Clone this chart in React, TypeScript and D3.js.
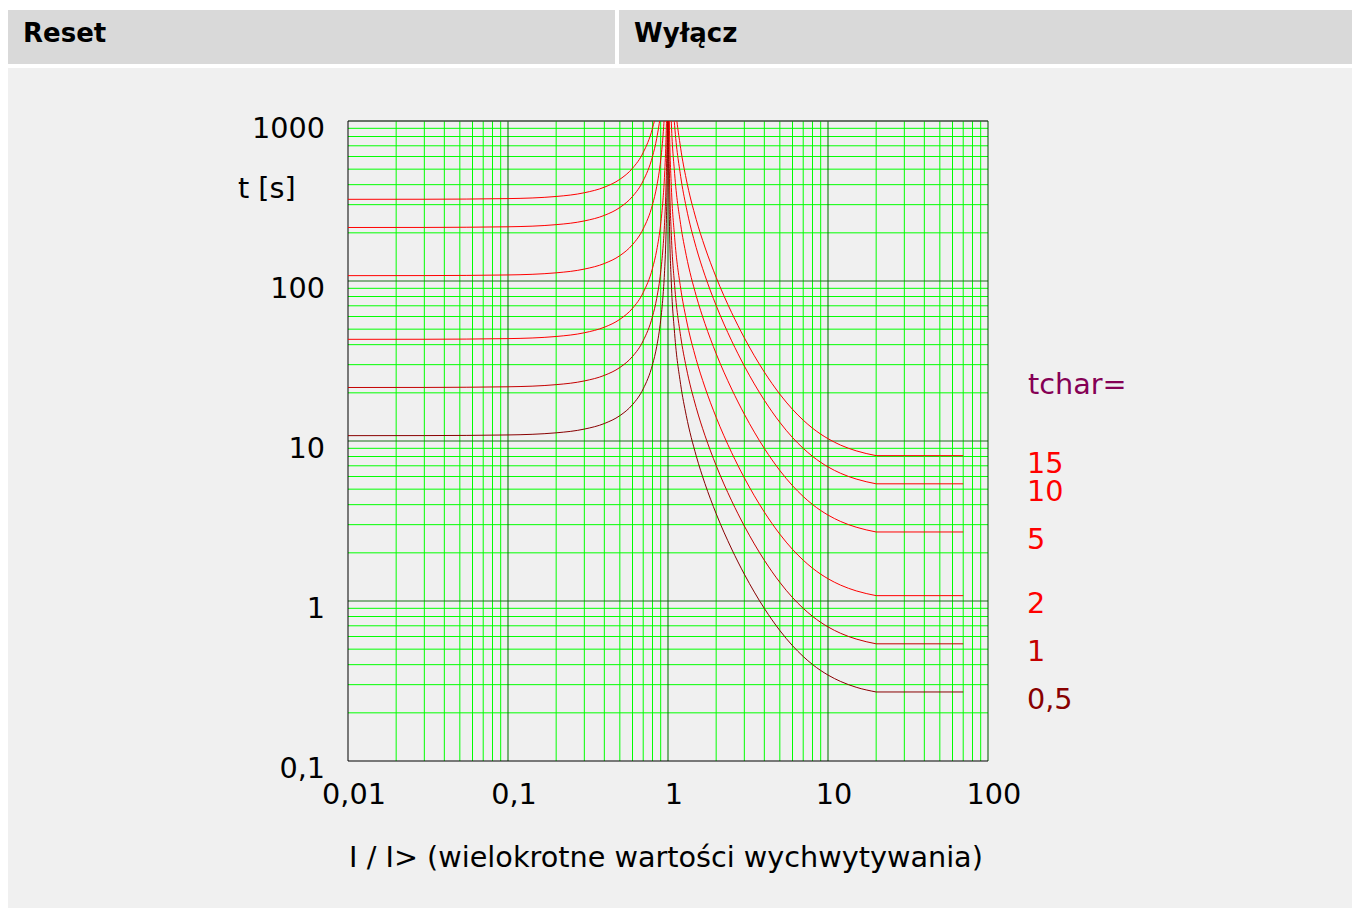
import React from "react";
import * as d3 from "d3";

// ---- Data ----
const tcharValues = [0.5, 1, 2, 5, 10, 15];
const tcharLabels = ["0,5", "1", "2", "5", "10", "15"];
const curveColors = ["#880000", "#c40000", "#ff0000", "#ff0000", "#ff0000", "#ff0000"];

// Reset side (I/I> < 1)
const resetM = [0.01, 0.03, 0.1, 0.2, 0.3, 0.4, 0.5, 0.6, 0.7, 0.8, 0.85, 0.9, 0.93, 0.95, 0.97, 0.98, 0.99, 0.995, 0.998];
const resetT05 = [10.8, 10.81, 10.91, 11.25, 11.87, 12.86, 14.4, 16.88, 21.18, 30.0, 38.92, 56.85, 79.95, 110.8, 182.8, 272.8, 542.5, 1083, 2703];
const resetT1 = [21.6, 21.62, 21.82, 22.5, 23.74, 25.71, 28.8, 33.75, 42.35, 60.0, 77.84, 113.7, 159.9, 221.5, 365.5, 545.5, 1085, 2165, 5405];
const resetT2 = [43.2, 43.24, 43.64, 45.0, 47.48, 51.42, 57.6, 67.5, 84.7, 120, 155.7, 227.4, 319.8, 443, 731, 1091, 2170, 4330, 10810];
const resetT5 = [108.0, 108.1, 109.1, 112.5, 118.7, 128.6, 144, 168.8, 211.8, 300, 389.2, 568.5, 799.5, 1108, 1828, 2728, 5425, 10825, 27025];
const resetT10 = [216.0, 216.2, 218.2, 225, 237.4, 257.1, 288, 337.5, 423.5, 600, 778.4, 1137, 1599, 2215, 3655, 5455, 10850, 21650, 54050];
const resetT15 = [324.0, 324.3, 327.3, 337.5, 356.1, 385.7, 432, 506.3, 635.3, 900, 1168, 1706, 2399, 3323, 5483, 8183, 16275, 32475, 81075];
const resetSeries = [resetT05, resetT1, resetT2, resetT5, resetT10, resetT15];

// Trip side (I/I> > 1)
const tripM = [1.002, 1.005, 1.01, 1.02, 1.05, 1.1, 1.2, 1.3, 1.5, 1.7, 2, 2.5, 3, 4, 5, 6, 7, 8, 10, 12, 15, 20];
const tripEndM = 70;
const tripT05 = [2449, 978.5, 488.1, 243.0, 95.9, 46.94, 22.53, 14.46, 8.09, 5.435, 3.514, 2.113, 1.471, 0.899, 0.654, 0.5255, 0.45, 0.401, 0.3445, 0.314, 0.289, 0.27];
const tripT1 = [4898, 1957, 976.1, 485.9, 191.8, 93.87, 45.06, 28.91, 16.18, 10.87, 7.028, 4.226, 2.942, 1.798, 1.308, 1.051, 0.9, 0.802, 0.689, 0.628, 0.5785, 0.54];
const tripT2 = [9796, 3914, 1952, 971.8, 383.6, 187.7, 90.12, 57.82, 32.36, 21.74, 14.06, 8.452, 5.884, 3.596, 2.616, 2.102, 1.8, 1.604, 1.378, 1.256, 1.157, 1.08];
const tripT5 = [24490, 9785, 4881, 2430, 959, 469.4, 225.3, 144.6, 80.9, 54.35, 35.14, 21.13, 14.71, 8.99, 6.54, 5.255, 4.5, 4.01, 3.445, 3.14, 2.893, 2.7];
const tripT10 = [48980, 19570, 9761, 4859, 1918, 938.7, 450.6, 289.1, 161.8, 108.7, 70.28, 42.26, 29.42, 17.98, 13.08, 10.51, 9.0, 8.02, 6.89, 6.28, 5.785, 5.4];
const tripT15 = [73470, 29355, 14642, 7289, 2877, 1408, 675.9, 433.7, 242.7, 163.1, 105.4, 63.39, 44.13, 26.97, 19.62, 15.77, 13.5, 12.03, 10.34, 9.42, 8.68, 8.1];
const tripSeries = [tripT05, tripT1, tripT2, tripT5, tripT10, tripT15];

const xTickValues = [0.01, 0.1, 1, 10, 100];
const xTickLabels = ["0,01", "0,1", "1", "10", "100"];
const yTickValues = [0.1, 1, 10, 100, 1000];
const yTickLabels = ["0,1", "1", "10", "100", "1000"];

const tabLabels = ["Reset", "Wyłącz"];
const xTitle = "I / I> (wielokrotne wartości wychwytywania)";
const yTitle = "t [s]";
const legendTitle = "tchar=";

// ---- Layout ----
const W = 1352;
const H = 908;
const plot = { left: 348, right: 988, top: 121, bottom: 761 };
const FONT = "'DejaVu Sans', sans-serif";
const FS = 28.7;

export default function App() {
  const x = d3.scaleLog().domain([0.01, 100]).range([plot.left, plot.right]);
  const y = d3.scaleLog().domain([0.1, 1000]).range([plot.bottom, plot.top]);

  const minorX: number[] = [];
  const majorX: number[] = [];
  [-2, -1, 0, 1].forEach((d) => {
    for (let k = 2; k <= 9; k++) minorX.push(k * Math.pow(10, d));
  });
  [0.1, 1, 10].forEach((v) => majorX.push(v));
  const minorY: number[] = [];
  const majorY: number[] = [];
  [-1, 0, 1, 2].forEach((d) => {
    for (let k = 2; k <= 9; k++) minorY.push(k * Math.pow(10, d));
  });
  [1, 10, 100].forEach((v) => majorY.push(v));

  const line = d3
    .line<[number, number]>()
    .x((d) => x(d[0]))
    .y((d) => y(d[1]))
    .curve(d3.curveMonotoneX);
  const straight = d3
    .line<[number, number]>()
    .x((d) => x(d[0]))
    .y((d) => y(d[1]));

  return (
    <svg
      width={W}
      height={H}
      style={{ position: "fixed", left: 0, top: 0, background: "#ffffff" }}
      fontFamily={FONT}
    >
      <defs>
        <clipPath id="plotClip">
          <rect x={plot.left} y={plot.top} width={plot.right - plot.left} height={plot.bottom - plot.top} />
        </clipPath>
      </defs>
      {/* tabs */}
      <rect x={8} y={10} width={607} height={54} fill="#d9d9d9" />
      <rect x={619} y={10} width={W - 619} height={54} fill="#d9d9d9" />
      <text x={23} y={42} fontSize={26} fontWeight="bold" fill="#000">
        {tabLabels[0]}
      </text>
      <text x={634} y={42} fontSize={26} fontWeight="bold" fill="#000">
        {tabLabels[1]}
      </text>
      {/* panel */}
      <rect x={8} y={68} width={W - 8} height={H - 68} fill="#f0f0f0" />

      {/* grid */}
      <g fill="none" strokeWidth={1}>
        {minorX.map((v) => (
          <line key={"mx" + v} x1={x(v)} x2={x(v)} y1={plot.top} y2={plot.bottom} stroke="#00ff00" />
        ))}
        {minorY.map((v) => (
          <line key={"my" + v} x1={plot.left} x2={plot.right} y1={y(v)} y2={y(v)} stroke="#00ff00" />
        ))}
        {majorX.map((v) => (
          <line key={"Mx" + v} x1={x(v)} x2={x(v)} y1={plot.top} y2={plot.bottom} stroke="#006a00" />
        ))}
        {majorY.map((v) => (
          <line key={"My" + v} x1={plot.left} x2={plot.right} y1={y(v)} y2={y(v)} stroke="#1a6e1a" />
        ))}
        <line x1={plot.left} x2={plot.right} y1={plot.top} y2={plot.top} stroke="#3a4a3a" strokeWidth={1.5} />
        <line x1={plot.right} x2={plot.right} y1={plot.top} y2={plot.bottom} stroke="#005000" />
        <line x1={plot.left} x2={plot.left} y1={plot.top} y2={plot.bottom} stroke="#000" />
        <line x1={plot.left} x2={plot.right} y1={plot.bottom} y2={plot.bottom} stroke="#000" />
      </g>

      {/* curves */}
      <g clipPath="url(#plotClip)" fill="none" strokeWidth={1}>
        {tcharValues.map((tc, i) => {
          const resetPts = resetM.map((m, j) => [m, resetSeries[i][j]] as [number, number]);
          const tripPts = tripM.map((m, j) => [m, tripSeries[i][j]] as [number, number]);
          const last = tripSeries[i][tripSeries[i].length - 1];
          const flatPts: [number, number][] = [
            [tripM[tripM.length - 1], last],
            [tripEndM, last],
          ];
          return (
            <g key={"c" + tc} stroke={curveColors[i]}>
              <path d={line(resetPts) || ""} />
              <path d={line(tripPts) || ""} />
              <path d={straight(flatPts) || ""} />
            </g>
          );
        })}
      </g>

      {/* y tick labels */}
      {yTickValues.map((v, i) => (
        <text key={"yt" + v} x={325} y={y(v) + 17} textAnchor="end" fontSize={FS} fill="#000">
          {yTickLabels[i]}
        </text>
      ))}
      {/* x tick labels */}
      {xTickValues.map((v, i) => (
        <text key={"xt" + v} x={x(v) + 6} y={804} textAnchor="middle" fontSize={FS} fill="#000">
          {xTickLabels[i]}
        </text>
      ))}
      <text x={238} y={198} fontSize={FS} fill="#000">
        {yTitle}
      </text>
      <text x={(plot.left + plot.right) / 2 - 2} y={867} textAnchor="middle" fontSize={FS} fill="#000">
        {xTitle}
      </text>

      {/* legend labels */}
      <text x={1028} y={394} fontSize={FS} fill="#850055">
        {legendTitle}
      </text>
      {tcharValues.map((tc, i) => {
        const last = tripSeries[i][tripSeries[i].length - 1];
        return (
          <text key={"lab" + tc} x={1027} y={y(last) + 17} fontSize={FS} fill={curveColors[i]}>
            {tcharLabels[i]}
          </text>
        );
      })}
    </svg>
  );
}
